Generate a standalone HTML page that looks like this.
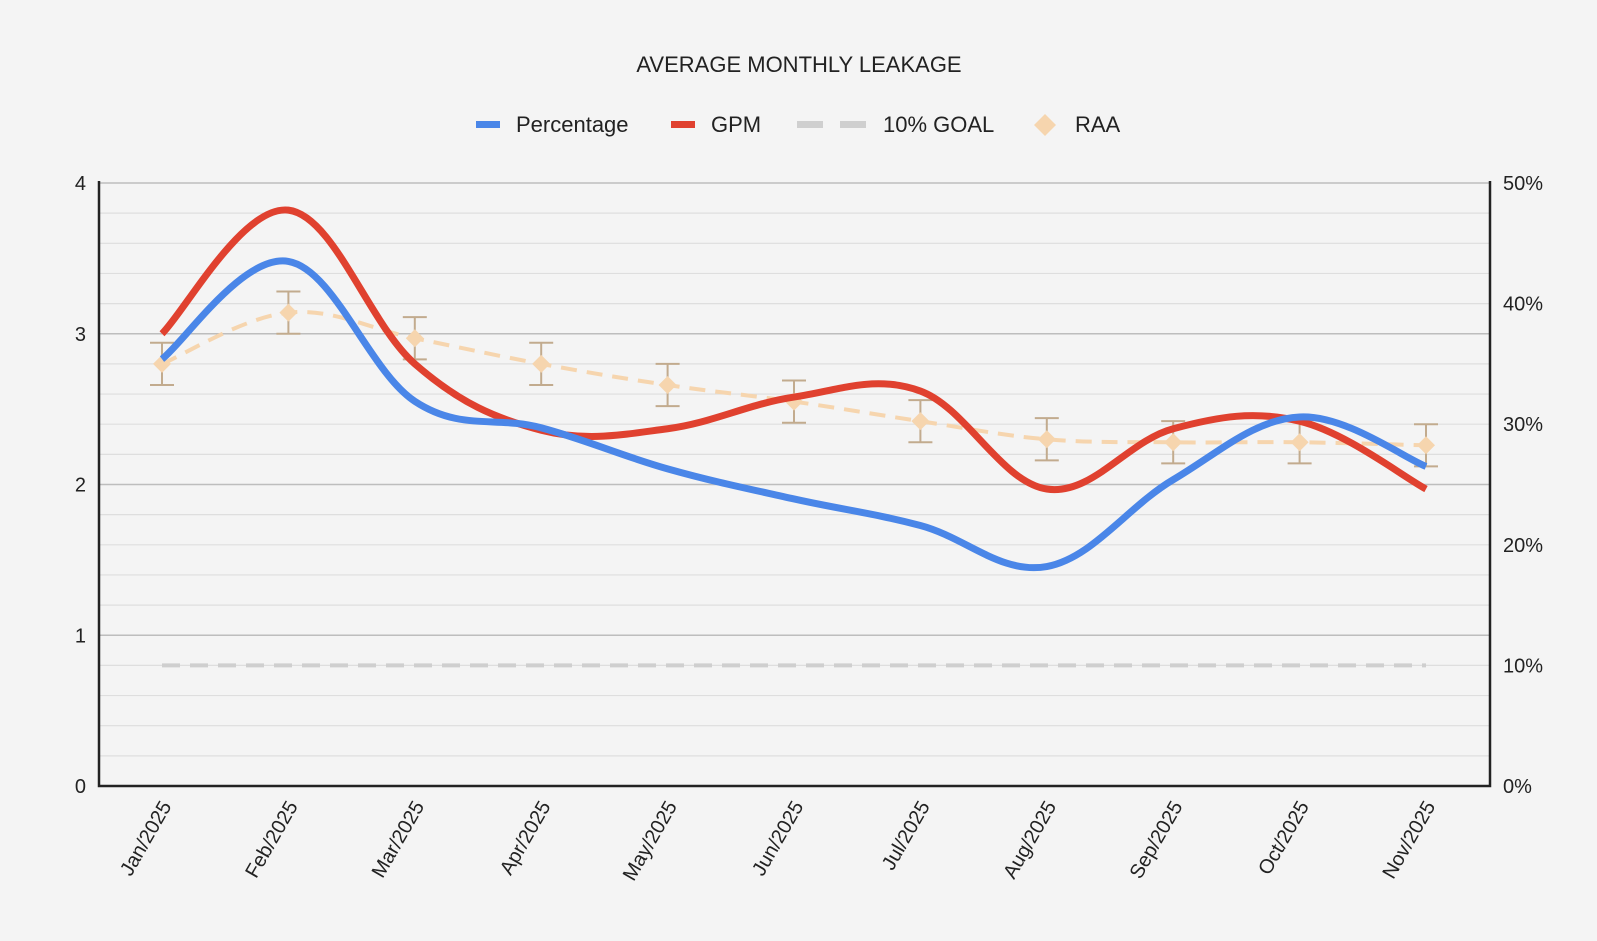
<!DOCTYPE html>
<html><head><meta charset="utf-8"><style>
html,body{margin:0;padding:0;background:#f4f4f4;}
svg{display:block;font-family:"Liberation Sans",Arial,sans-serif;}
</style></head><body>
<svg id="chart" width="1597" height="941" viewBox="0 0 1597 941">
<rect width="1597" height="941" fill="#f4f4f4"/>
<text x="799" y="72" text-anchor="middle" font-size="22" fill="#222">AVERAGE MONTHLY LEAKAGE</text>
<g>
 <g><rect x="476" y="121" width="24" height="7" fill="#4a86e8"/><text x="516" y="132" font-size="22" fill="#222">Percentage</text></g>
 <g><rect x="671" y="121" width="24" height="7" fill="#e0412f"/><text x="711" y="132" font-size="22" fill="#222">GPM</text></g>
 <g><rect x="797" y="121" width="26" height="7" fill="#cfcfcf"/><rect x="840" y="121" width="26" height="7" fill="#cfcfcf"/><text x="883" y="132" font-size="22" fill="#222">10% GOAL</text></g>
 <g><path d="M1045 114 L1056 125 L1045 136 L1034 125 Z" fill="#f6d5ae"/><text x="1075" y="132" font-size="22" fill="#222">RAA</text></g>
</g>
<g id="grid"></g>
<g id="marks"></g>
<g id="axes"></g>
</svg>
<script>
const categories=["Jan/2025","Feb/2025","Mar/2025","Apr/2025","May/2025","Jun/2025","Jul/2025","Aug/2025","Sep/2025","Oct/2025","Nov/2025"];
const percentage=[35.4,43.5,31.9,29.7,26.3,23.8,21.6,18.2,25.4,30.6,26.5];
const gpm=[3.0,3.82,2.8,2.36,2.37,2.58,2.62,1.97,2.37,2.42,1.97];
const raa=[2.8,3.14,2.97,2.8,2.66,2.55,2.42,2.3,2.28,2.28,2.26];
const raaErr=[0.14,0.14,0.14,0.14,0.14,0.14,0.14,0.14,0.14,0.14,0.14];
const goal=[10,10,10,10,10,10,10,10,10,10,10];
const leftTicks=[0,1,2,3,4];
const rightTicks=["0%","10%","20%","30%","40%","50%"];
const NS="http://www.w3.org/2000/svg";
const L=99,R=1490,T=183,B=786;
const x0=162,x1=1426;
function xs(i){return x0+(x1-x0)*i/(categories.length-1);}
function yL(v){return B-(B-T)*v/4;}
function yR(p){return B-(B-T)*p/50;}
function mk(tag,attrs,parent){const e=document.createElementNS(NS,tag);for(const k in attrs)e.setAttribute(k,attrs[k]);parent.appendChild(e);return e;}
const grid=document.getElementById('grid'),marks=document.getElementById('marks'),axes=document.getElementById('axes');
for(let k=1;k<=20;k++){const v=k*0.2;const major=k%5===0;
 const g=mk('line',{x1:L,x2:R,y1:yL(v),y2:yL(v),stroke:major?'#bdbdbd':'#dedede','stroke-width':major?1.5:1.2},grid);
 
 }
leftTicks.forEach(v=>{const t=mk('text',{x:86,y:yL(v)+7,'text-anchor':'end','font-size':20,fill:'#222'},axes);t.textContent=v;
 
 });
rightTicks.forEach((s,i)=>{const t=mk('text',{x:1503,y:yR(i*10)+7,'font-size':20,fill:'#222'},axes);t.textContent=s;
 
 });
categories.forEach((c,i)=>{const x=xs(i)+10,y=806;const t=mk('text',{x:x,y:y,'text-anchor':'end','font-size':20,fill:'#222',transform:`rotate(-60 ${x} ${y})`},axes);t.textContent=c;
 
 });
const la=mk('path',{d:`M${L} ${T-2} V${B} H${R} V${T-2}`,fill:'none',stroke:'#222','stroke-width':2.5},axes);


function smooth(pts){let d=`M${pts[0][0]} ${pts[0][1]}`;
 for(let i=0;i<pts.length-1;i++){const p0=pts[i-1]||pts[i],p1=pts[i],p2=pts[i+1],p3=pts[i+2]||p2;const s=0.3;
  const c1=[p1[0]+(p2[0]-p0[0])*s/1.0*0.5*1.2,p1[1]+(p2[1]-p0[1])*s*0.6];
  const c2=[p2[0]-(p3[0]-p1[0])*s*0.6,p2[1]-(p3[1]-p1[1])*s*0.6];
  d+=` C${c1[0]} ${c1[1]} ${c2[0]} ${c2[1]} ${p2[0]} ${p2[1]}`;}
 return d;}
const goalLine=mk('path',{d:`M${xs(0)} ${yR(goal[0])} H${xs(goal.length-1)}`,stroke:'#cfcfcf','stroke-width':4,'stroke-dasharray':'18 10',fill:'none'},marks);


raa.forEach((v,i)=>{const x=xs(i);const e=mk('path',{d:`M${x} ${yL(v+raaErr[i])} V${yL(v-raaErr[i])} M${x-12} ${yL(v+raaErr[i])} H${x+12} M${x-12} ${yL(v-raaErr[i])} H${x+12}`,stroke:'#c2ab8e','stroke-width':2,fill:'none'},marks);
 
 });
const raaLine=mk('path',{d:smooth(raa.map((v,i)=>[xs(i),yL(v)])),stroke:'#f6d5ae','stroke-width':4,'stroke-dasharray':'16 10',fill:'none'},marks);


raa.forEach((v,i)=>{const x=xs(i),y=yL(v);const e=mk('path',{d:`M${x} ${y-9} L${x+9} ${y} L${x} ${y+9} L${x-9} ${y} Z`,fill:'#f6d5ae'},marks);
 
 });
const gl=mk('path',{d:smooth(gpm.map((v,i)=>[xs(i),yL(v)])),stroke:'#e0412f','stroke-width':7,fill:'none'},marks);


const pl=mk('path',{d:smooth(percentage.map((v,i)=>[xs(i),yR(v)])),stroke:'#4a86e8','stroke-width':7,fill:'none'},marks);


</script>
</body></html>
